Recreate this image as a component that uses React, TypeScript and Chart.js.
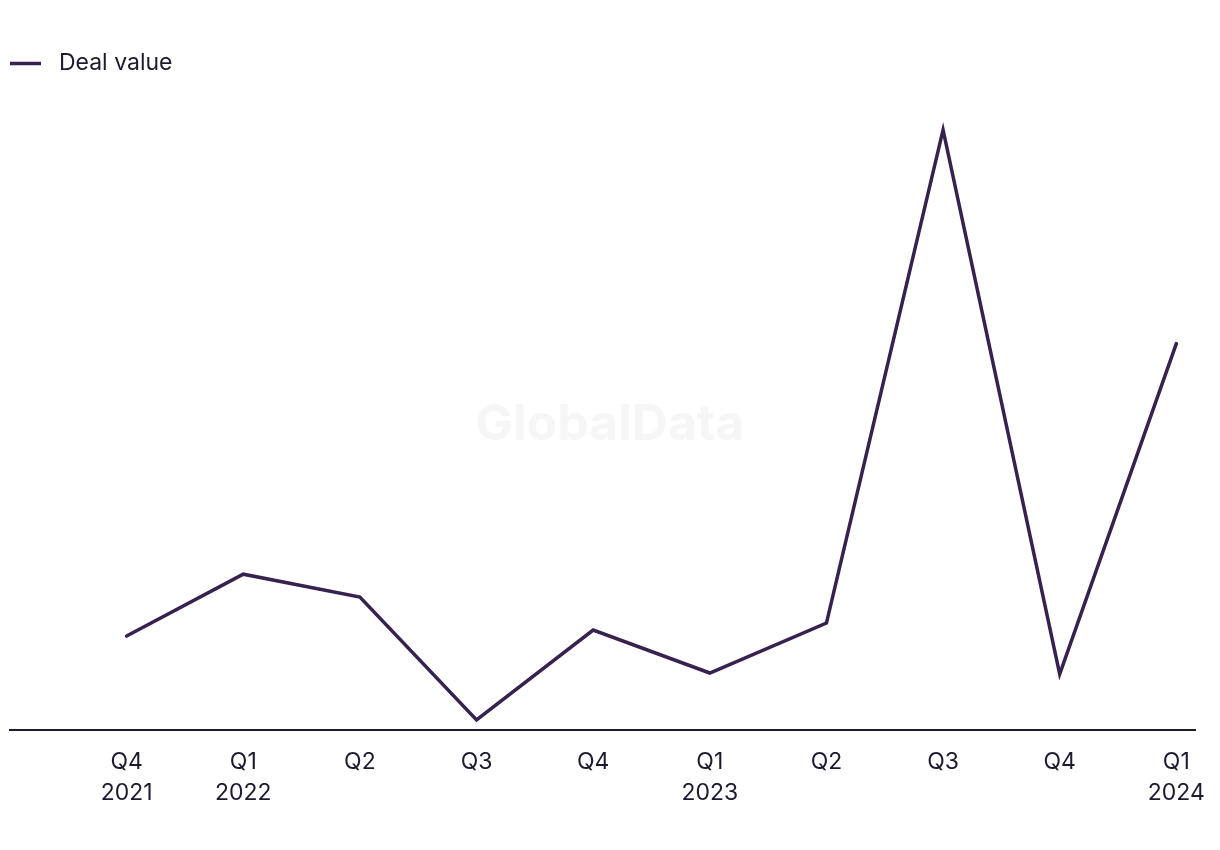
import React, { useEffect, useRef } from "react";
import { Chart, registerables } from "chart.js";

Chart.register(...registerables);

const quarters = ["Q4", "Q1", "Q2", "Q3", "Q4", "Q1", "Q2", "Q3", "Q4", "Q1"];
const years = ["2021", "2022", "", "", "", "2023", "", "", "", "2024"];
const dealValue = [94, 156, 133, 10, 100, 57, 107, 601, 56, 387];
const seriesLabel = "Deal value";
const watermarkText = "GlobalData";

const LINE_COLOR = "#36214f";
const TEXT_COLOR = "#1c1b2e";
const FONT = "Inter, 'Noto Sans', sans-serif";

const watermark = {
  id: "watermark",
  beforeDatasetsDraw(chart: any) {
    const { ctx } = chart;
    ctx.save();
    ctx.font = `bold 50px ${FONT}`;
    ctx.fillStyle = "#f6f6f6";
    ctx.textAlign = "center";
    ctx.textBaseline = "middle";
    ctx.fillText(watermarkText, 610, 425);
    ctx.restore();
  },
};

export default function App() {
  const ref = useRef<HTMLCanvasElement | null>(null);
  useEffect(() => {
    if (!ref.current) return;
    const chart = new Chart(ref.current, {
      type: "line",
      data: {
        datasets: [
          {
            label: seriesLabel,
            data: dealValue.map((v, i) => ({ x: i, y: v })),
            borderColor: LINE_COLOR,
            backgroundColor: LINE_COLOR,
            borderWidth: 3.5,
            borderCapStyle: "round",
            borderJoinStyle: "miter",
            pointRadius: 0,
            pointHoverRadius: 0,
            tension: 0,
          } as any,
        ],
      },
      options: {
        animation: false,
        responsive: false,
        maintainAspectRatio: false,
        layout: { padding: { left: 10, right: 25, top: 52, bottom: 31 } },
        plugins: {
          legend: {
            position: "top",
            align: "start",
            labels: {
              usePointStyle: true,
              pointStyle: "line",
              pointStyleWidth: 31,
              padding: 0,
              color: TEXT_COLOR,
              font: { family: FONT, size: 23 },
              generateLabels: (chart: any) =>
                Chart.defaults.plugins.legend.labels
                  .generateLabels(chart)
                  .map((l: any) => ({ ...l, text: " " + l.text })),
            } as any,
          },
          tooltip: { enabled: false },
        },
        scales: {
          x: {
            type: "linear",
            min: -1,
            max: 9.16,
            grid: {
              display: true,
              drawOnChartArea: false,
              drawTicks: true,
              tickLength: 7,
              color: "rgba(0,0,0,0)",
            },
            border: { display: true, color: "#1c1b2e", width: 2 },
            ticks: {
              stepSize: 1,
              includeBounds: false,
              autoSkip: false,
              maxRotation: 0,
              padding: 10,
              color: TEXT_COLOR,
              font: { family: FONT, size: 23, lineHeight: 1.35 },
              callback: (v: any) => {
                const i = Number(v);
                if (!Number.isInteger(i) || i < 0 || i >= quarters.length) return "";
                return years[i] ? [quarters[i], years[i]] : quarters[i];
              },
            } as any,
          },
          y: {
            display: false,
            min: 0,
            max: 646,
          },
        },
      },
      plugins: [watermark],
    });
    return () => chart.destroy();
  }, []);
  return (
    <div style={{ position: "fixed", left: 0, top: 0, width: 1220, height: 850, background: "#fff" }}>
      <canvas ref={ref} width={1220} height={850} style={{ width: 1220, height: 850 }} />
    </div>
  );
}
